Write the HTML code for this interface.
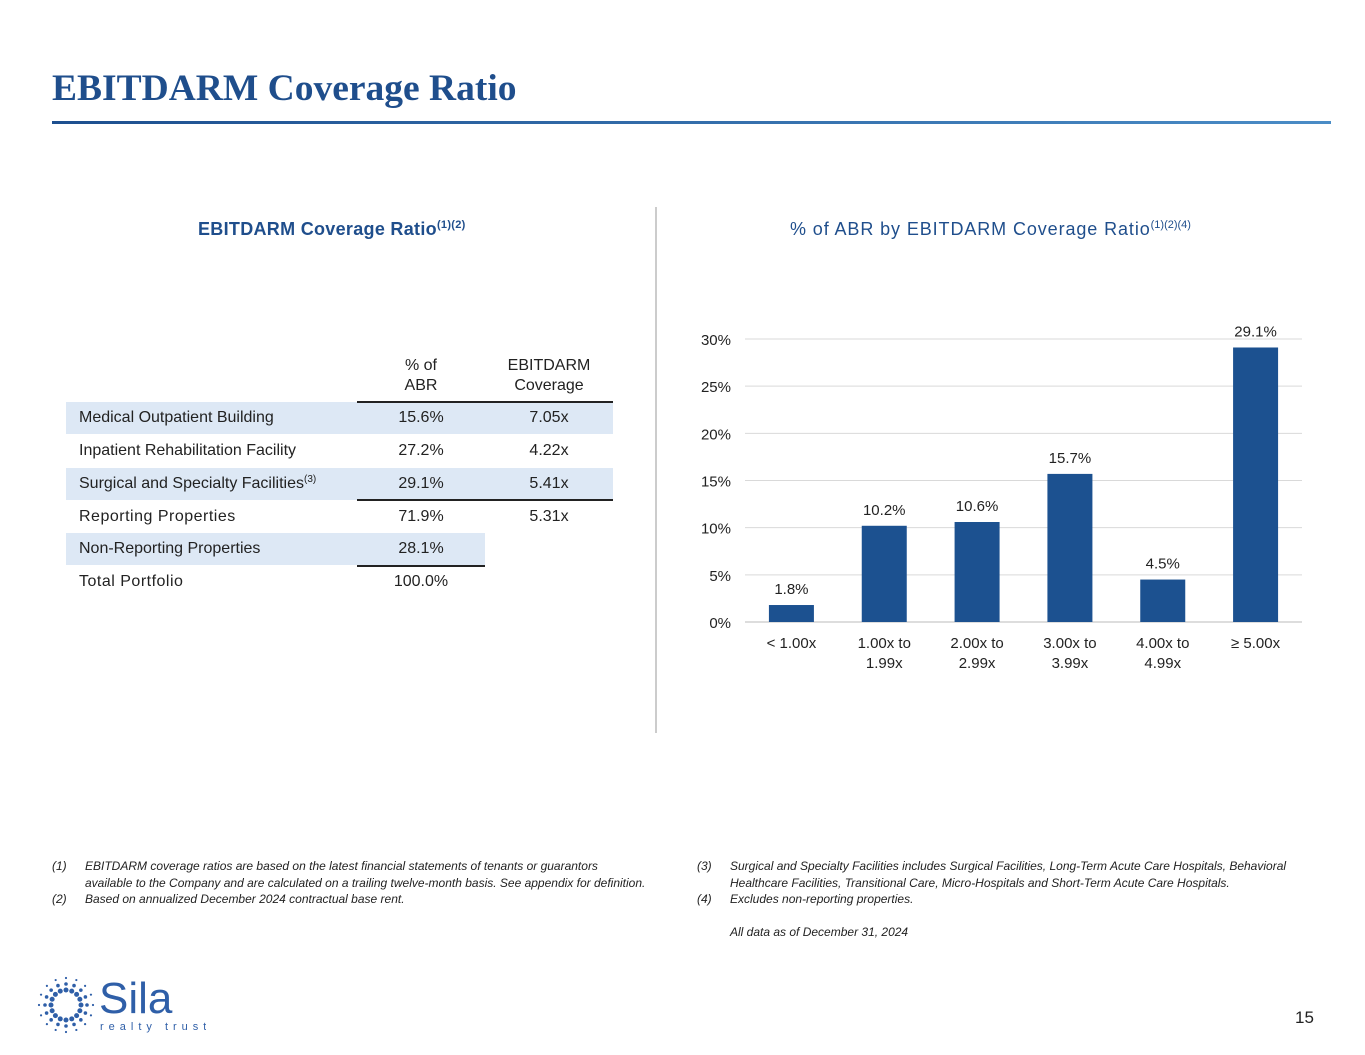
<!DOCTYPE html>
<html><head><meta charset="utf-8"><style>
body{margin:0;width:1365px;height:1055px;background:#fff;position:relative;font-family:"Liberation Sans",sans-serif;overflow:hidden}
.abs{position:absolute}
.title{left:52px;top:67px;font-family:"Liberation Serif",serif;font-weight:bold;font-size:37.5px;color:#1f4e8c;white-space:nowrap}
.rule{left:52px;top:121px;width:1279px;height:3px;background:linear-gradient(90deg,#1d4f8f,#4a8cc6)}
.sub{font-size:18px;color:#1f4e8c;white-space:nowrap}
.sub sup{font-size:11px}
.cell{position:absolute;height:32px;line-height:32px;font-size:16px;color:#222;white-space:nowrap}
.fn{font-size:12px;font-style:italic;color:#222;line-height:16.5px}
</style></head><body>
<div class="abs title">EBITDARM Coverage Ratio</div>
<div class="abs rule"></div>
<div class="abs sub" style="left:198px;top:219px;font-weight:bold;letter-spacing:0.3px">EBITDARM Coverage Ratio<sup>(1)(2)</sup></div>
<div class="abs sub" style="left:790px;top:219px;letter-spacing:0.9px">% of ABR by EBITDARM Coverage Ratio<sup style="letter-spacing:0">(1)(2)(4)</sup></div>
<div class="abs" style="left:655px;top:207px;width:2px;height:526px;background:#ccc"></div>

<div class="abs" style="left:0;top:0">
<div class="cell" style="left:357px;top:356px;width:128px;text-align:center;line-height:20px;height:40px">% of<br>ABR</div>
<div class="cell" style="left:485px;top:356px;width:128px;text-align:center;line-height:20px;height:40px">EBITDARM<br>Coverage</div>
<div class="abs" style="left:66px;top:402px;width:547px;height:32px;background:#dde8f5"></div>
<div class="abs" style="left:66px;top:468px;width:547px;height:32px;background:#dde8f5"></div>
<div class="abs" style="left:66px;top:533px;width:419px;height:32px;background:#dde8f5"></div>
<div class="abs" style="left:357px;top:401px;width:256px;height:2px;background:#222"></div>
<div class="abs" style="left:357px;top:499px;width:256px;height:2px;background:#222"></div>
<div class="abs" style="left:357px;top:565px;width:128px;height:2px;background:#222"></div>
<div class="cell" style="left:79px;top:402px">Medical Outpatient Building</div>
<div class="cell" style="left:357px;top:402px;width:128px;text-align:center">15.6%</div>
<div class="cell" style="left:485px;top:402px;width:128px;text-align:center">7.05x</div>
<div class="cell" style="left:79px;top:435px">Inpatient Rehabilitation Facility</div>
<div class="cell" style="left:357px;top:435px;width:128px;text-align:center">27.2%</div>
<div class="cell" style="left:485px;top:435px;width:128px;text-align:center">4.22x</div>
<div class="cell" style="left:79px;top:468px">Surgical and Specialty Facilities<sup style="font-size:10px;line-height:0;vertical-align:6px">(3)</sup></div>
<div class="cell" style="left:357px;top:468px;width:128px;text-align:center">29.1%</div>
<div class="cell" style="left:485px;top:468px;width:128px;text-align:center">5.41x</div>
<div class="cell" style="left:79px;top:501px;letter-spacing:0.5px">Reporting Properties</div>
<div class="cell" style="left:357px;top:501px;width:128px;text-align:center">71.9%</div>
<div class="cell" style="left:485px;top:501px;width:128px;text-align:center">5.31x</div>
<div class="cell" style="left:79px;top:533px">Non-Reporting Properties</div>
<div class="cell" style="left:357px;top:533px;width:128px;text-align:center">28.1%</div>
<div class="cell" style="left:79px;top:566px;letter-spacing:0.5px">Total Portfolio</div>
<div class="cell" style="left:357px;top:566px;width:128px;text-align:center">100.0%</div>
</div>

<svg class="abs" style="left:0;top:0" width="1365" height="1055" id="chart"></svg>

<div class="abs fn" style="left:52px;top:858px;width:596px">
<div style="display:flex"><span style="width:33px">(1)</span><span style="flex:1">EBITDARM coverage ratios are based on the latest financial statements of tenants or guarantors available to the Company and are calculated on a trailing twelve-month basis. See appendix for definition.</span></div>
<div style="display:flex"><span style="width:33px">(2)</span><span style="flex:1">Based on annualized December 2024 contractual base rent.</span></div>
</div>
<div class="abs fn" style="left:697px;top:858px;width:592px">
<div style="display:flex"><span style="width:33px">(3)</span><span style="flex:1">Surgical and Specialty Facilities includes Surgical Facilities, Long-Term Acute Care Hospitals, Behavioral Healthcare Facilities, Transitional Care, Micro-Hospitals and Short-Term Acute Care Hospitals.</span></div>
<div style="display:flex"><span style="width:33px">(4)</span><span style="flex:1">Excludes non-reporting properties.</span></div>
<div style="padding-left:33px;margin-top:16px">All data as of December 31, 2024</div>
</div>

<svg class="abs" style="left:36px;top:975px" width="170" height="60">
<g fill="#2f5fa8" id="sun"></g>
<text x="63" y="38" font-family="Liberation Sans" font-size="44" fill="#2f5fa8">Sila</text>
<text x="64" y="55" font-family="Liberation Sans" font-size="11" letter-spacing="5" fill="#2f5fa8">realty trust</text>
</svg>
<div class="abs" style="left:1295px;top:1008px;font-size:17px;color:#222">15</div>

<script>
const categories=["< 1.00x","1.00x to|1.99x","2.00x to|2.99x","3.00x to|3.99x","4.00x to|4.99x","≥ 5.00x"];
const values=[1.8,10.2,10.6,15.7,4.5,29.1];
const valueLabels=["1.8%","10.2%","10.6%","15.7%","4.5%","29.1%"];
const yTicks=[0,5,10,15,20,25,30];
const ns="http://www.w3.org/2000/svg";
const svg=document.getElementById('chart');
const x0=745,x1=1302,y0=622,pxPer=(622-339)/30;
const y=v=>y0-v*pxPer;
const band=(x1-x0)/categories.length;
const xc=i=>x0+band*(i+0.5);
function mk(t,a){const e=document.createElementNS(ns,t);for(const k in a)e.setAttribute(k,a[k]);svg.appendChild(e);return e;}
yTicks.forEach(t=>{
 const l=mk('line',{x1:x0,x2:x1,y1:y(t),y2:y(t),stroke:t===0?'#bbb':'#d9d9d9','stroke-width':1});
 
 
 const tx=mk('text',{x:731,y:y(t)+6,'text-anchor':'end','font-size':15,fill:'#222','font-family':'Liberation Sans'});
 tx.textContent=t+'%';
 
 
});
values.forEach((v,i)=>{
 const r=mk('rect',{x:xc(i)-22.5,y:y(v),width:45,height:y0-y(v),fill:'#1c5190'});
 
 
 const t=mk('text',{x:xc(i),y:y(v)-11,'text-anchor':'middle','font-size':15,fill:'#222','font-family':'Liberation Sans'});
 t.textContent=valueLabels[i];
 
 
 categories[i].split('|').forEach((s,j)=>{
  const c=mk('text',{x:xc(i),y:648+j*20,'text-anchor':'middle','font-size':15,fill:'#222','font-family':'Liberation Sans'});
  c.textContent=s;
  
  
 });
});
const g=document.getElementById('sun');
for(let k=0;k<16;k++){const a=k*Math.PI/8;for(let r=1;r<=3;r++){const c=document.createElementNS(ns,'circle');c.setAttribute('cx',30+Math.cos(a)*(9+r*6));c.setAttribute('cy',30+Math.sin(a)*(9+r*6));c.setAttribute('r',3.2-r*0.7);g.appendChild(c);}}
</script>
</body></html>
